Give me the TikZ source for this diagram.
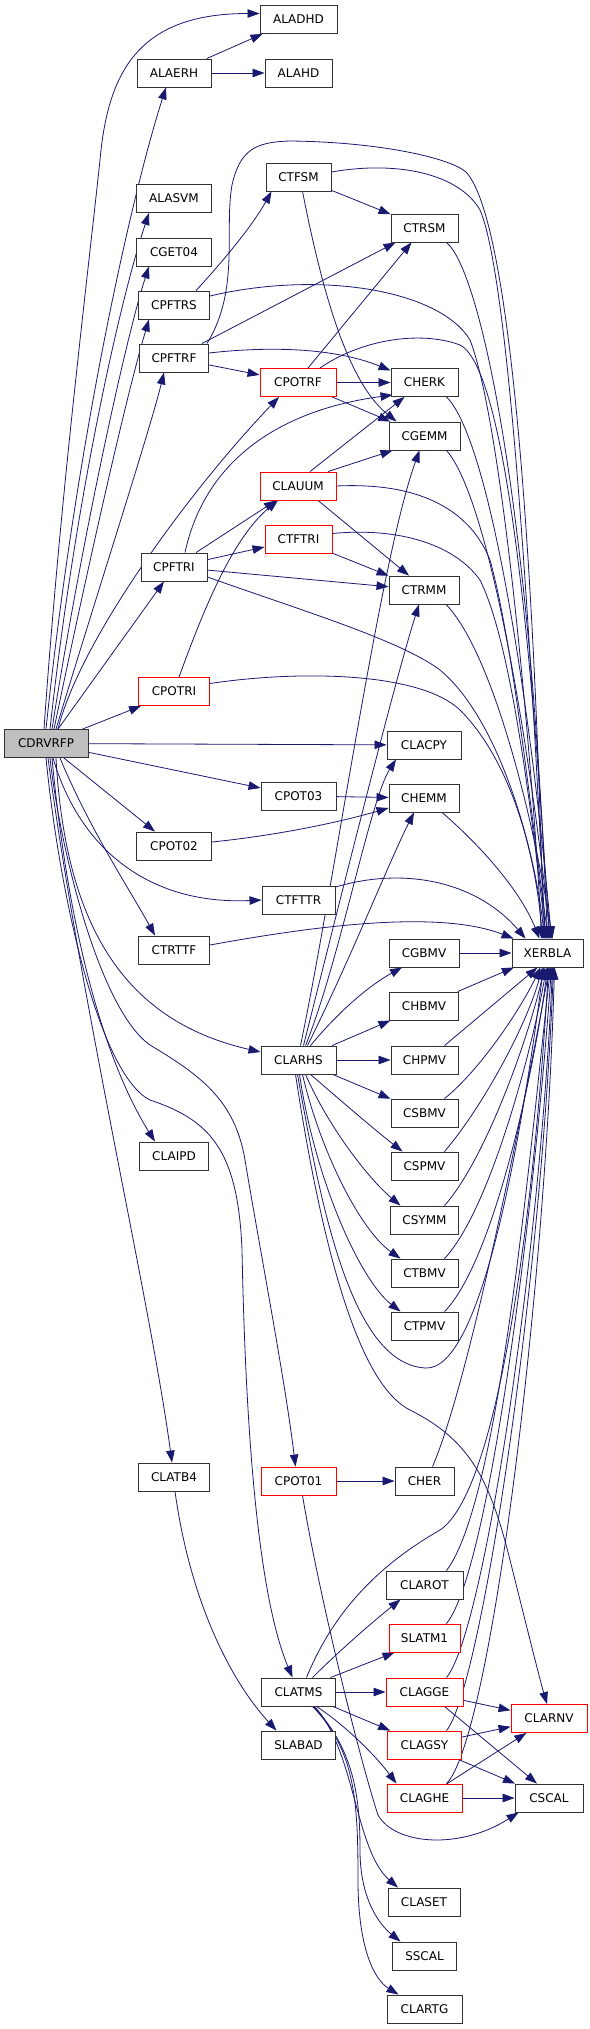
\documentclass[tikz,border=0pt]{standalone}
\usepackage{fontspec}
\newfontfamily\dvs{DejaVu Sans}
\usetikzlibrary{arrows.meta,backgrounds}
\definecolor{edgeblue}{HTML}{191970}
\definecolor{nodegray}{HTML}{BFBFBF}
\begin{document}
\begin{tikzpicture}[x=1pt,y=-1pt,
 box/.style={draw=black!80, line width=0.9pt, fill=white, minimum height=28pt, inner sep=0pt, font={\dvs\fontsize{12}{14}\selectfont}},
 rbox/.style={box, draw=red},
 e/.style={draw=edgeblue, line width=0.8pt, -{Triangle[length=12pt,width=8.5pt]}}]
\useasboundingbox (0,0) rectangle (589,2029);
% nodes
\node[box, minimum width=77pt] (aladhd) at (298.5,19.5) {ALADHD};
\node[box, minimum width=74pt] (alaerh) at (174,73) {ALAERH};
\node[box, minimum width=67pt] (alahd) at (298.5,73) {ALAHD};
\node[box, minimum width=65pt] (ctfsm) at (298.5,177) {CTFSM};
\node[box, minimum width=75pt] (alasvm) at (174,198.5) {ALASVM};
\node[box, minimum width=75pt] (cget04) at (174,252) {CGET04};
\node[box, minimum width=67pt] (ctrsm) at (424.5,228) {CTRSM};
\node[box, minimum width=71pt] (cpftrs) at (174,305) {CPFTRS};
\node[box, minimum width=69pt] (cpftrf) at (174,358) {CPFTRF};
\node[rbox, minimum width=76pt] (cpotrf) at (298,382.5) {CPOTRF};
\node[box, minimum width=67pt] (cherk) at (424.5,382.5) {CHERK};
\node[box, minimum width=71pt] (cgemm) at (424.5,436) {CGEMM};
\node[rbox, minimum width=76pt] (clauum) at (298,486) {CLAUUM};
\node[rbox, minimum width=67pt] (ctftri) at (298.5,539.5) {CTFTRI};
\node[box, minimum width=66pt] (cpftri) at (174,567) {CPFTRI};
\node[box, minimum width=70pt] (ctrmm) at (424,590) {CTRMM};
\node[rbox, minimum width=71pt] (cpotri) at (174,691.5) {CPOTRI};
\node[box, minimum width=84pt, fill=nodegray] (cdr) at (46,743.5) {CDRVRFP};
\node[box, minimum width=74pt] (clacpy) at (424,745) {CLACPY};
\node[box, minimum width=75pt] (cpot03) at (298.5,796) {CPOT03};
\node[box, minimum width=70pt] (chemm) at (424,798) {CHEMM};
\node[box, minimum width=75pt] (cpot02) at (174,846) {CPOT02};
\node[box, minimum width=73pt] (ctfttr) at (298.5,900) {CTFTTR};
\node[box, minimum width=71pt] (ctrttf) at (174,950) {CTRTTF};
\node[box, minimum width=70pt] (cgbmv) at (424,953) {CGBMV};
\node[box, minimum width=71pt] (xerbla) at (547.5,953) {XERBLA};
\node[box, minimum width=69pt] (chbmv) at (424,1006) {CHBMV};
\node[box, minimum width=75pt] (clarhs) at (298.5,1060) {CLARHS};
\node[box, minimum width=67pt] (chpmv) at (424.5,1060) {CHPMV};
\node[box, minimum width=67pt] (csbmv) at (424.5,1113) {CSBMV};
\node[box, minimum width=69pt] (claipd) at (174,1156) {CLAIPD};
\node[box, minimum width=67pt] (cspmv) at (424.5,1166) {CSPMV};
\node[box, minimum width=68pt] (csymm) at (424.5,1220) {CSYMM};
\node[box, minimum width=67pt] (ctbmv) at (424.5,1273) {CTBMV};
\node[box, minimum width=67pt] (ctpmv) at (424.5,1326) {CTPMV};
\node[box, minimum width=71pt] (clatb4) at (174,1477) {CLATB4};
\node[rbox, minimum width=75pt] (cpot01) at (298.5,1481) {CPOT01};
\node[box, minimum width=59pt] (cher) at (424.5,1481) {CHER};
\node[box, minimum width=77pt] (clarot) at (424.5,1585) {CLAROT};
\node[rbox, minimum width=71pt] (slatm1) at (424.5,1638) {SLATM1};
\node[box, minimum width=74pt] (clatms) at (298.5,1692) {CLATMS};
\node[rbox, minimum width=77pt] (clagge) at (424.5,1692) {CLAGGE};
\node[rbox, minimum width=76pt] (clarnv) at (549,1718.5) {CLARNV};
\node[box, minimum width=74pt] (slabad) at (298.5,1745) {SLABAD};
\node[rbox, minimum width=74pt] (clagsy) at (424.5,1745) {CLAGSY};
\node[rbox, minimum width=75pt] (claghe) at (424.5,1798) {CLAGHE};
\node[box, minimum width=68pt] (cscal) at (549,1798) {CSCAL};
\node[box, minimum width=72pt] (claset) at (424,1902) {CLASET};
\node[box, minimum width=64pt] (sscal) at (424.5,1956) {SSCAL};
\node[box, minimum width=75pt] (clartg) at (424.5,2009) {CLARTG};
\begin{scope}[on background layer]
\fill[white] (0,0) rectangle (589,2029);
% CDRVRFP
\draw[e] ([xshift=-2pt]cdr.north) .. controls (60,500) and (85,300) .. (100,160) .. controls (108,70) and (140,13.5) .. ([yshift=6pt]aladhd.west);
\draw[e] (cdr.north) .. controls (75,450) and (130,200) .. ([xshift=-8pt]alaerh.south);
\draw[e] ([xshift=4pt]cdr.north) .. controls (75,500) and (120,300) .. ([xshift=-25pt]alasvm.south);
\draw[e] ([xshift=6pt]cdr.north) .. controls (80,550) and (125,340) .. ([xshift=-25pt]cget04.south);
\draw[e] ([xshift=8pt]cdr.north) .. controls (85,580) and (125,400) .. ([xshift=-25pt]cpftrs.south);
\draw[e] ([xshift=10pt]cdr.north) .. controls (95,600) and (150,430) .. ([xshift=-10pt]cpftrf.south);
\draw[e] ([xshift=12pt]cdr.north) .. controls (80,640) and (190,490) .. ([xshift=-19pt]cpotrf.south);
\draw[e] ([xshift=12pt]cdr.north) -- ([xshift=-10pt]cpftri.south);
\draw[e] (cdr) -- ([xshift=3pt]cpotri.south west);
\draw[e] (cdr) -- (clacpy);
\draw[e] (cdr) -- ([yshift=8pt]cpot03.west);
\draw[e] (cdr) -- ([xshift=-19pt]cpot02.north);
\draw[e] ([xshift=7pt]cdr.south) .. controls (80,850) and (150,905) .. (ctfttr.west);
\draw[e] ([xshift=14pt]cdr.south) .. controls (90,830) and (130,890) .. ([xshift=-19pt]ctrttf.north);
\draw[e] ([xshift=10pt]cdr.south) .. controls (65,920) and (120,1020) .. ([yshift=8pt]clarhs.west);
\draw[e] ([xshift=6pt]cdr.south) .. controls (70,950) and (110,1070) .. ([xshift=-19pt]claipd.north);
\draw[e] ([xshift=2pt]cdr.south) .. controls (80,1000) and (150,1300) .. ([xshift=-2pt]clatb4.north);
\draw[e] ([xshift=4pt]cdr.south) .. controls (60,850) and (100,1010) .. (150,1045) .. controls (200,1075) and (235,1100) .. (245,1160) .. controls (260,1250) and (285,1380) .. ([xshift=-3pt]cpot01.north);
\draw[e] (cdr.south) .. controls (60,900) and (100,1075) .. (150,1100) .. controls (210,1120) and (238,1150) .. (242,1250) .. controls (246,1450) and (260,1600) .. ([xshift=-6pt]clatms.north);
% left column
\draw[e] (alaerh) -- ([xshift=3pt]aladhd.south west);
\draw[e] (alaerh) -- (alahd);
\draw[e] ([xshift=22pt]cpftrs.north) .. controls (215,270) and (250,230) .. ([xshift=-27pt]ctfsm.south);
\draw[e] ([yshift=9pt]cpftrs.east) .. controls (320,270) and (440,290) .. (470,340) .. controls (505,430) and (535,800) .. ([xshift=-6pt]xerbla.north);
\draw[e] ([xshift=28pt]cpftrf.north) -- ([xshift=5pt]ctrsm.south west);
\draw[e] (cpftrf) -- (cpotrf);
\draw[e] ([yshift=5pt]cpftrf.east) .. controls (280,345) and (340,350) .. ([yshift=12pt]cherk.west);
\draw[e] ([xshift=-2pt]cpftrf.north east) .. controls (240,290) and (224,230) .. (232,185) .. controls (240,150) and (255,142) .. (290,141) .. controls (380,142) and (450,158) .. (466,172) .. controls (520,230) and (538,700) .. ([xshift=-4pt]xerbla.north);
% CTFSM, CTRSM
\draw[e] (ctfsm) -- (ctrsm);
\draw[e] ([yshift=5pt]ctfsm.east) .. controls (400,160) and (460,175) .. (480,210) .. controls (515,290) and (538,800) .. ([xshift=-2pt]xerbla.north);
\draw[e] ([xshift=4pt]ctfsm.south) .. controls (320,280) and (345,380) .. ([xshift=-28pt]cgemm.north);
\draw[e] ([xshift=22pt]ctrsm.south) .. controls (480,270) and (530,500) .. (xerbla.north);
% CPOTRF
\draw[e] (cpotrf) -- (cherk);
\draw[e] (cpotrf) -- (cgemm);
\draw[e] ([xshift=10pt]cpotrf.north) -- ([xshift=-13pt]ctrsm.south);
\draw[e] ([xshift=22pt]cpotrf.north) .. controls (360,340) and (420,330) .. (460,345) .. controls (510,370) and (535,700) .. ([xshift=2pt]xerbla.north);
\draw[e] ([xshift=22pt]cherk.south) .. controls (490,440) and (530,700) .. ([xshift=4pt]xerbla.north);
\draw[e] ([xshift=22pt]cgemm.south) .. controls (490,500) and (530,750) .. ([xshift=3pt]xerbla.north);
% CLAUUM
\draw[e] ([xshift=12pt]clauum.north) -- ([xshift=-20pt]cherk.south);
\draw[e] ([xshift=30pt]clauum.north) -- ([xshift=-32pt]cgemm.south);
\draw[e] (clauum.east) .. controls (420,482) and (470,510) .. (490,560) .. controls (515,650) and (535,850) .. ([xshift=1pt]xerbla.north);
\draw[e] ([xshift=20pt]clauum.south) -- ([xshift=-15pt]ctrmm.north);
% CTFTRI
\draw[e] (ctftri) -- (ctrmm);
\draw[e] ([yshift=6pt]ctftri.east) .. controls (400,527) and (455,545) .. (480,580) .. controls (515,650) and (535,850) .. ([xshift=-1pt]xerbla.north);
% CPFTRI
\draw[e] (cpftri) -- (ctftri);
\draw[e] (cpftri) -- (ctrmm);
\draw[e] ([yshift=-10pt]cpftri.east) .. controls (300,610) and (400,640) .. (440,670) .. controls (500,720) and (535,850) .. ([xshift=-3pt]xerbla.north);
\draw[e] ([xshift=22pt]cpftri.north) -- ([xshift=-22pt]clauum.south);
\draw[e] ([xshift=11pt]cpftri.north) .. controls (205,460) and (280,410) .. ([xshift=2pt,yshift=2pt]cherk.south west);
% CPOTRI
\draw[e] ([xshift=5pt]cpotri.north) .. controls (200,620) and (230,540) .. ([xshift=-20pt]clauum.south);
\draw[e] ([yshift=8pt]cpotri.east) .. controls (300,670) and (420,672) .. (460,710) .. controls (510,760) and (535,850) .. ([xshift=-5pt]xerbla.north);
\draw[e] ([xshift=22pt]ctrmm.south) .. controls (490,650) and (530,800) .. ([xshift=5pt]xerbla.north);
% CPOT03, CPOT02, CHEMM
\draw[e] (cpot03) -- (chemm);
\draw[e] ([yshift=4pt]cpot02.east) .. controls (280,835) and (340,822) .. ([yshift=-10pt]chemm.west);
\draw[e] ([xshift=18pt]chemm.south) .. controls (480,845) and (520,890) .. ([xshift=-8pt]xerbla.north);
% CTFTTR, CTRTTF
\draw[e] ([yshift=13pt]ctfttr.east) .. controls (410,865) and (480,885) .. ([xshift=-22pt]xerbla.north);
\draw[e] ([yshift=5pt]ctrttf.east) .. controls (320,925) and (440,910) .. ([xshift=2pt]xerbla.north west);
% CLARHS
\draw[e] ([xshift=12pt]clarhs.north) .. controls (340,1010) and (370,985) .. ([xshift=-22pt]cgbmv.south);
\draw[e] (clarhs) -- (chbmv);
\draw[e] (clarhs) -- (chpmv);
\draw[e] (clarhs) -- (csbmv);
\draw[e] ([xshift=12pt]clarhs.south) .. controls (340,1100) and (375,1130) .. ([xshift=-22pt]cspmv.north);
\draw[e] ([xshift=7pt]clarhs.south) .. controls (330,1130) and (370,1180) .. ([xshift=-24pt]csymm.north);
\draw[e] ([xshift=4pt]clarhs.south) .. controls (320,1150) and (360,1230) .. ([xshift=-24pt]ctbmv.north);
\draw[e] ([xshift=1pt]clarhs.south) .. controls (315,1180) and (360,1280) .. ([xshift=-24pt]ctpmv.north);
\draw[e] ([xshift=-1pt]clarhs.south) .. controls (320,1200) and (350,1365) .. (426,1368) .. controls (480,1370) and (520,1150) .. ([xshift=-4pt]xerbla.south);
\draw[e] ([xshift=-3pt]clarhs.south) .. controls (330,1300) and (370,1390) .. (410,1410) .. controls (470,1440) and (490,1480) .. (510,1560) .. controls (530,1640) and (540,1680) .. ([xshift=-2pt]clarnv.north);
\draw[e] ([xshift=2pt]clarhs.north) .. controls (335,880) and (380,560) .. ([xshift=-5pt]cgemm.south);
\draw[e] ([xshift=5pt]clarhs.north) .. controls (345,880) and (395,680) .. ([xshift=-5pt]ctrmm.south);
\draw[e] ([xshift=7pt]clarhs.north) .. controls (340,960) and (370,800) .. ([xshift=-28pt]clacpy.south);
\draw[e] ([xshift=9pt]clarhs.north) .. controls (350,960) and (390,860) .. ([xshift=-10pt]chemm.south);
% into XERBLA from below
\draw[e] (cgbmv) -- (xerbla);
\draw[e] (chbmv) -- (xerbla);
\draw[e] ([xshift=20pt]chpmv.north) -- ([xshift=-10pt]xerbla.south);
\draw[e] ([xshift=20pt]csbmv.north) .. controls (480,1070) and (520,1010) .. ([xshift=-7pt]xerbla.south);
\draw[e] ([xshift=20pt]cspmv.north) .. controls (480,1110) and (525,1030) .. ([xshift=-5pt]xerbla.south);
\draw[e] ([xshift=20pt]csymm.north) .. controls (485,1160) and (528,1040) .. ([xshift=-3pt]xerbla.south);
\draw[e] ([xshift=20pt]ctbmv.north) .. controls (490,1210) and (532,1050) .. ([xshift=-1pt]xerbla.south);
\draw[e] ([xshift=20pt]ctpmv.north) .. controls (495,1260) and (536,1060) .. (xerbla.south);
% lower part
\draw[e] (cpot01) -- (cher);
\draw[e] ([xshift=4pt]cpot01.south) .. controls (320,1600) and (360,1760) .. (378,1815) .. controls (395,1845) and (460,1850) .. ([xshift=4pt]cscal.south west);
\draw[e] ([xshift=8pt]cher.north) .. controls (470,1380) and (525,1100) .. ([xshift=2pt]xerbla.south);
\draw[e] ([xshift=22pt]clarot.north) .. controls (500,1500) and (530,1150) .. ([xshift=3pt]xerbla.south);
\draw[e] ([xshift=22pt]slatm1.north) .. controls (490,1570) and (535,1200) .. ([xshift=4pt]xerbla.south);
\draw[e] ([xshift=22pt]clagge.north) .. controls (485,1630) and (540,1250) .. ([xshift=5pt]xerbla.south);
\draw[e] ([xshift=22pt]clagsy.north) .. controls (480,1690) and (540,1300) .. ([xshift=6pt]xerbla.south);
\draw[e] ([xshift=22pt]claghe.north) .. controls (490,1740) and (545,1300) .. ([xshift=7pt]xerbla.south);
\draw[e] ([xshift=8pt]clatms.north) .. controls (330,1620) and (370,1570) .. (440,1530) .. controls (500,1490) and (535,1200) .. ([xshift=1pt]xerbla.south);
\draw[e] ([xshift=14pt]clatms.north) .. controls (340,1650) and (375,1620) .. ([xshift=-24pt]clarot.south);
\draw[e] ([xshift=32pt]clatms.north) -- ([xshift=-30pt]slatm1.south);
\draw[e] (clatms) -- (clagge);
\draw[e] (clatms) -- (clagsy);
\draw[e] ([xshift=18pt]clatms.south) .. controls (345,1725) and (375,1755) .. ([xshift=-28pt]claghe.north);
\draw[e] ([xshift=16pt]clatms.south) .. controls (355,1750) and (355,1850) .. ([xshift=-26pt]claset.north);
\draw[e] ([xshift=15pt]clatms.south) .. controls (355,1750) and (360,1800) .. (360,1850) .. controls (360,1900) and (380,1925) .. ([xshift=-24pt]sscal.north);
\draw[e] ([xshift=14pt]clatms.south) .. controls (355,1750) and (358,1800) .. (358,1880) .. controls (358,1950) and (375,1980) .. ([xshift=-26pt]clartg.north);
\draw[e] (clagge) -- (clarnv);
\draw[e] ([xshift=20pt]clagge.south) -- ([xshift=-12pt]cscal.north);
\draw[e] (clagsy) -- (clarnv);
\draw[e] (clagsy) -- (cscal);
\draw[e] (claghe) -- (clarnv);
\draw[e] (claghe) -- (cscal);
\draw[e] ([xshift=1pt]clatb4.south) .. controls (190,1600) and (230,1680) .. ([xshift=-22pt]slabad.north);
\end{scope}
\end{tikzpicture}
\end{document}
